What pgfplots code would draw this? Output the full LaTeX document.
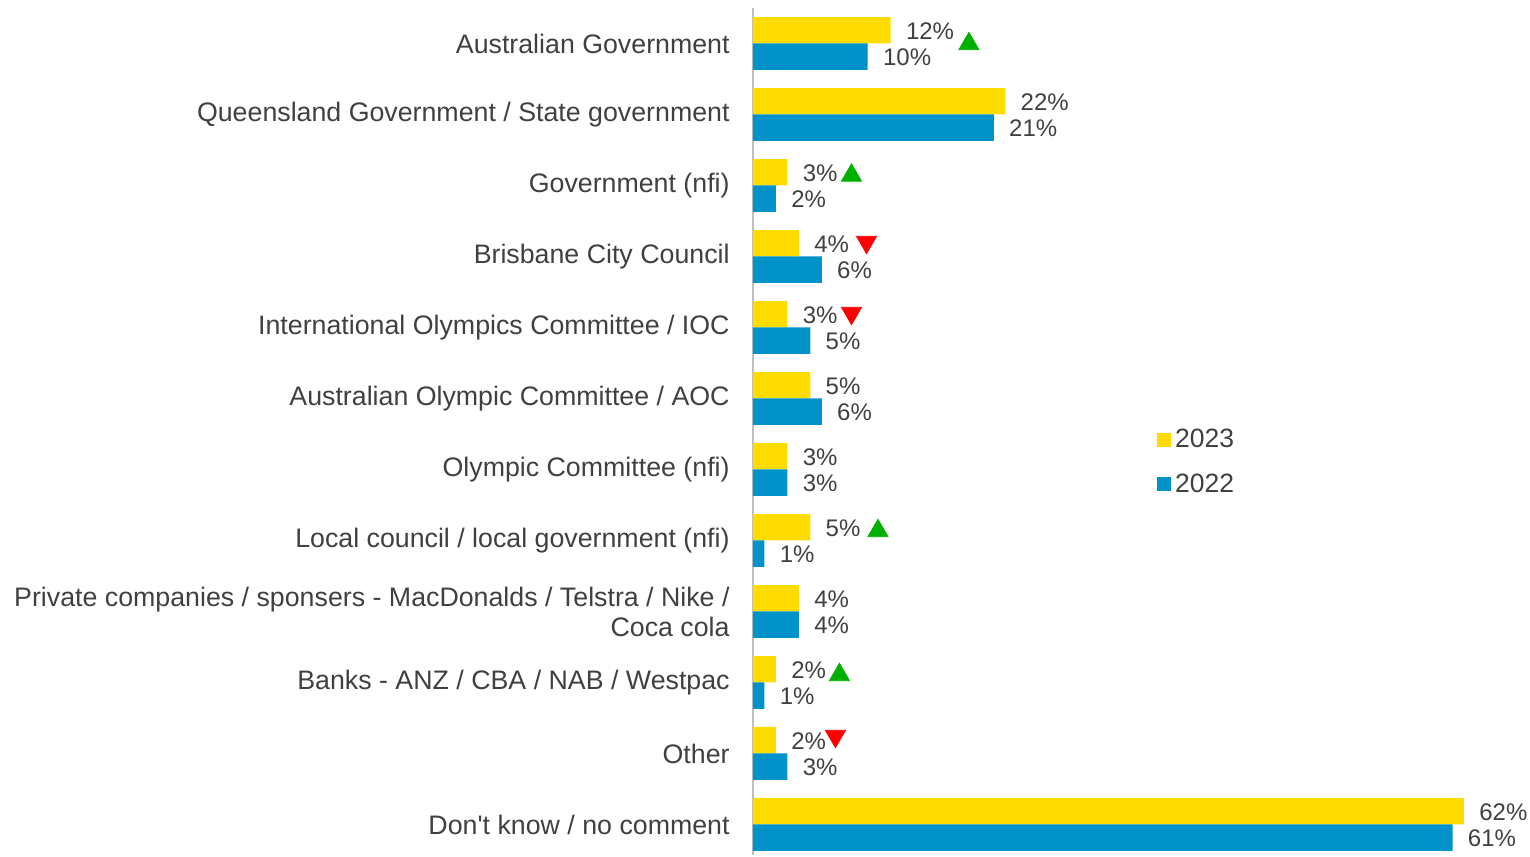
\documentclass[border=0pt]{standalone}
\usepackage{pgfplots}
\pgfplotsset{compat=1.18}
\usepackage{fontspec}
\setmainfont{Liberation Sans}
\definecolor{cyel}{HTML}{FFDC00}
\definecolor{cblu}{HTML}{0092C8}
\definecolor{ctxt}{HTML}{404040}
\definecolor{cgrn}{HTML}{00B000}
\definecolor{cred}{HTML}{FF0000}
\begin{document}
\begin{tikzpicture}
\begin{axis}[
  scale only axis, width=355.5pt, height=423.5pt,
  xmin=0, xmax=62, ymin=-0.5, ymax=11.43, y dir=reverse,
  axis x line=none, axis y line*=left,
  y axis line style={-, draw=black!25, line width=1pt},
  ytick={0,...,11},
  yticklabels={Australian Government, Queensland Government / State government, Government (nfi), Brisbane City Council, International Olympics Committee / IOC, Australian Olympic Committee / AOC, Olympic Committee (nfi), Local council / local government (nfi), {Private companies / sponsers - MacDonalds / Telstra / Nike /\\Coca cola}, Banks - ANZ / CBA / NAB / Westpac, Other, {Don\textquotesingle t know / no comment}},
  major tick length=0pt,
  yticklabel style={align=right, font=\fontsize{13.38}{15}\selectfont, text=ctxt, inner sep=0pt, xshift=-11.5pt},
  clip=false,
  legend image code/.code={\fill[#1] (0pt,-3.5pt) rectangle (7pt,3.5pt);},
  legend style={at={(0.568,0.508)}, anchor=north west, draw=none, fill=none, font=\fontsize{13.25}{15}\selectfont, text=ctxt, row sep=7.5pt, inner sep=0pt, nodes={inner sep=2pt}},
  legend cell align=left,
  bar width=0.373,
  nlab/.style={nodes near coords={\pgfmathprintnumber[assume math mode=true, fixed, precision=0]{\pgfplotspointmeta}\%},
    every node near coord/.append style={anchor=west, inner sep=0pt, xshift=7.5pt, yshift=#1, font=\fontsize{12}{14}\selectfont, text=ctxt}},
]
\addplot[xbar, bar shift=-0.1865, fill=cyel, draw=none, nlab=6.25pt] coordinates {
(12,0) (22,1) (3,2) (4,3) (3,4) (5,5) (3,6) (5,7) (4,8) (2,9) (2,10) (62,11)};
\addlegendentry{2023}
\addplot[xbar, bar shift=0.1865, fill=cblu, draw=none, nlab=-6.75pt] coordinates {
(10,0) (21,1) (2,2) (6,3) (5,4) (6,5) (3,6) (1,7) (4,8) (1,9) (3,10) (61,11)};
\addlegendentry{2022}
\addplot[only marks, mark=triangle*, mark size=5.8pt, color=cgrn, forget plot] coordinates {(18.83,0.006) (8.59,1.858) (10.90,6.865) (7.54,8.893)};
\addplot[only marks, mark=triangle*, mark size=5.8pt, color=cred, mark options={rotate=180}, forget plot] coordinates {(9.90,2.797) (8.59,3.797) (7.19,9.755)};
\end{axis}
\path ([xshift=-376.5pt,yshift=4pt]current axis.north west) rectangle ([xshift=33pt]current axis.south east);
\end{tikzpicture}
\end{document}
